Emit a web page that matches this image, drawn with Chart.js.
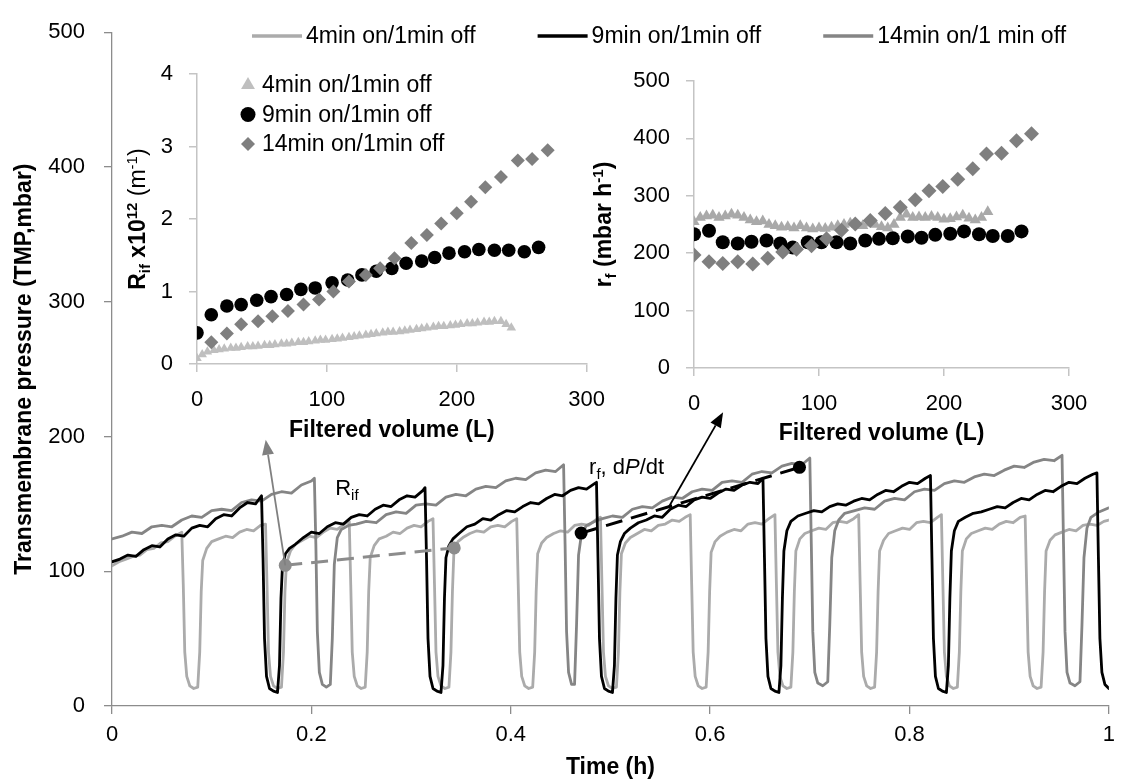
<!DOCTYPE html>
<html><head><meta charset="utf-8">
<script src="https://cdn.jsdelivr.net/npm/chart.js@4.4.1/dist/chart.umd.min.js"></script>
<style>
html,body{margin:0;padding:0;background:#fff;overflow:hidden}
#wrap{position:relative;width:1123px;height:784px;background:#fff}
canvas{position:absolute;display:block}
</style></head><body>
<div id="wrap">
<canvas id="main" width="1123" height="784" style="left:0;top:0;width:1123px;height:784px"></canvas>
<canvas id="insetA" width="520" height="410" style="left:100px;top:45px;width:520px;height:410px"></canvas>
<canvas id="insetB" width="540" height="410" style="left:570px;top:45px;width:540px;height:410px"></canvas>
</div>
<script>
// ---------------- DATA ----------------
const seriesLabels = ['4min on/1min off', '9min on/1min off', '14min on/1 min off'];
const insetLabels = ['4min on/1min off', '9min on/1min off', '14min on/1min off'];
const timeTicks = [0, 0.2, 0.4, 0.6, 0.8, 1];
const timeTickLabels = ['0', '0.2', '0.4', '0.6', '0.8', '1'];
const tmpTicks = [0, 100, 200, 300, 400, 500];
const volTicks = [0, 100, 200, 300];
const rifTicks = [0, 1, 2, 3, 4];
const rfTicks = [0, 100, 200, 300, 400, 500];

// 4min on / 1min off  (time h, TMP mbar)
const lgT = [0,.007,.014,.021,.028,.035,.042,.049,.056,.063,.070,
 .0715,.073,.075,.078,.082,.086,.088,.0895,.091,.095,.100,
 .107,.114,.121,.128,.135,.142,.149,.154,
 .1555,.157,.159,.162,.166,.170,.172,.1735,.175,.179,.184,
 .191,.198,.205,.212,.219,.226,.233,.238,
 .2395,.241,.243,.246,.250,.254,.256,.2575,.259,.263,.268,
 .275,.282,.289,.296,.303,.310,.317,.322,
 .3235,.325,.327,.330,.334,.338,.340,.3415,.343,.347,.352,
 .359,.366,.373,.380,.387,.394,.401,.406,
 .4075,.409,.411,.414,.418,.422,.424,.4255,.427,.431,.436,
 .443,.450,.457,.464,.471,.478,.485,.490,
 .4915,.493,.495,.498,.502,.506,.508,.5095,.511,.515,.520,
 .527,.534,.541,.548,.555,.562,.569,.575,.580,
 .5815,.583,.585,.588,.592,.596,.598,.5995,.601,.605,.610,
 .617,.624,.631,.638,.645,.652,.659,.665,
 .6665,.668,.670,.673,.677,.681,.683,.6845,.686,.690,.695,
 .702,.709,.716,.723,.730,.737,.744,.749,
 .7505,.752,.754,.757,.761,.765,.767,.7685,.770,.774,.779,
 .786,.793,.800,.807,.814,.821,.828,.832,
 .8335,.835,.837,.840,.844,.848,.850,.8515,.853,.857,.862,
 .869,.876,.883,.890,.897,.904,.911,.916,
 .9175,.919,.921,.924,.928,.932,.934,.9355,.937,.941,.946,
 .953,.960,.967,.974,.981,.988,.995,1.0];
const lgV = [104,107,109,111,112,116,117,121,122,126,129,
 90,40,22,15,13,14,40,85,108,117,122,
 124,126,125,129,131,130,134,135,
 90,40,22,15,13,14,40,85,106,115,120,
 123,126,125,129,132,131,135,137,
 90,40,22,15,13,14,40,85,110,119,124,
 126,129,128,132,134,133,137,139,
 90,40,22,15,13,14,40,85,115,122,125,
 128,130,129,133,134,133,137,139,
 90,40,22,15,13,14,40,85,113,121,125,
 128,130,129,134,135,134,138,140,
 90,40,22,15,13,14,40,85,113,121,125,
 128,131,130,134,135,138,137,140,142,
 90,40,22,15,13,14,40,85,114,122,126,
 129,131,130,135,136,135,139,142,
 90,40,22,15,13,14,40,85,115,124,128,
 130,132,131,136,137,136,139,142,
 90,40,22,15,13,14,40,85,115,123,128,
 130,132,131,136,137,136,140,142,
 90,40,22,15,13,14,40,85,115,124,128,
 130,132,131,135,137,136,140,141,
 90,40,22,15,13,14,40,85,115,123,127,
 129,131,130,134,135,134,137,138];

// 9min on / 1min off
const bkT = [0,.008,.016,.024,.032,.040,.048,.056,.064,.072,.080,.088,.096,.104,.112,.120,.128,.136,.144,.150,
 .1515,.153,.155,.158,.162,.166,.168,.1695,.171,.174,.178,.184,
 .192,.200,.208,.216,.224,.232,.240,.248,.256,.264,.272,.280,.288,.296,.304,.312,.314,
 .3155,.317,.319,.322,.326,.330,.332,.3335,.335,.338,.342,.348,
 .356,.364,.372,.380,.388,.396,.404,.412,.420,.428,.436,.444,.452,.460,.468,.476,.484,.486,
 .4875,.489,.491,.494,.498,.502,.504,.5055,.507,.510,.514,.520,
 .528,.536,.544,.552,.560,.568,.576,.584,.592,.600,.608,.616,.624,.632,.640,.648,.653,
 .6545,.656,.658,.661,.665,.669,.671,.6725,.674,.677,.681,.688,
 .696,.704,.712,.720,.728,.736,.744,.752,.760,.768,.776,.784,.792,.800,.808,.816,.821,
 .8225,.824,.826,.829,.833,.837,.839,.8405,.842,.845,.849,.856,
 .864,.872,.880,.888,.896,.904,.912,.920,.928,.936,.944,.952,.960,.968,.976,.984,.988,
 .9895,.991,.993,.996,1.0];
const bkV = [107,109,112,111,116,119,118,124,127,126,132,134,133,139,142,141,147,151,150,156,
 110,50,22,13,11,10,30,80,104,113,117,120,
 125,129,128,133,136,135,140,142,141,146,149,148,153,156,155,160,162,
 110,50,22,13,11,10,30,80,110,119,124,128,
 133,135,139,138,142,145,144,148,151,150,154,157,156,160,162,161,165,166,
 110,50,22,13,11,10,30,80,112,122,128,132,
 136,138,141,140,146,149,148,153,155,154,158,161,160,164,166,165,169,
 110,50,22,13,11,10,30,80,115,130,137,141,
 143,145,144,148,150,149,152,154,153,157,160,159,163,166,165,169,171,
 110,50,22,13,11,10,30,80,115,130,137,140,
 143,144,146,148,147,151,154,153,157,160,159,163,166,165,169,172,173,
 110,50,25,16,13];

// 14min on / 1min off
const dgT = [0,.01,.02,.03,.04,.05,.06,.07,.08,.09,.10,.11,.12,.13,.14,.15,.16,.17,.18,.19,.20,.203,
 .2045,.206,.208,.211,.215,.219,.221,.223,.226,.230,.237,
 .245,.255,.265,.275,.285,.295,.305,.315,.325,.335,.345,.355,.365,.375,.385,.395,.405,.415,.425,.435,.445,.453,
 .4545,.456,.458,.461,.464,.466,.468,.471,.476,.484,
 .492,.502,.512,.522,.532,.542,.552,.562,.572,.582,.592,.602,.612,.622,.632,.642,.652,.662,.672,.682,.692,.700,
 .7015,.703,.705,.708,.713,.718,.720,.722,.725,.729,.735,
 .745,.755,.765,.775,.785,.795,.805,.815,.825,.835,.845,.855,.865,.875,.885,.895,.905,.915,.925,.935,.945,.953,
 .9545,.956,.958,.961,.966,.971,.973,.975,.978,.982,.990,1.0];
const dgV = [124,126,129,128,133,134,133,138,141,140,145,146,145,151,153,152,157,159,158,164,167,169,
 120,55,25,16,14,16,50,105,125,131,134,
 135,137,136,142,144,143,149,150,149,155,157,156,161,163,162,167,169,168,173,175,174,179,
 120,55,25,16,16,60,112,128,134,137,
 139,141,140,146,148,147,152,155,154,159,161,160,166,167,166,172,174,173,178,180,179,184,
 120,55,25,17,15,18,60,110,130,138,143,
 145,147,146,152,154,153,159,161,160,165,167,166,170,172,171,175,178,177,181,183,182,186,
 120,55,25,17,15,18,60,110,132,140,144,147];

// annotation points on the main chart
const rifT = [0.1738, 0.3433], rifV = [104.4, 117.3];
const rfT = [0.4706, 0.6896], rfV = [128.3, 177.1];
const arrowRif = {from: [0.1738, 104.4], to: [0.1542, 197.5]};
const arrowRf = {from: [0.5585, 147.7], to: [0.613, 217.9]};
const labelRif = [0.2239, 162.5];
const labelRf = [0.4786, 177.8];

// Inset A: R_if vs filtered volume
const aTriX = [0,4,8,13,17,21,26,30,34,39,43,47,52,56,60,65,69,73,78,82,86,91,95,99,104,108,112,117,121,125,130,134,138,143,147,151,156,160,164,169,173,177,182,186,190,195,199,203,208,212,216,221,225,229,234,238,242];
const aTriY = [0.08,0.13,0.17,0.19,0.20,0.21,0.22,0.22,0.23,0.24,0.24,0.25,0.26,0.26,0.27,0.28,0.28,0.29,0.30,0.30,0.31,0.32,0.33,0.33,0.34,0.35,0.36,0.37,0.38,0.39,0.40,0.41,0.42,0.43,0.44,0.44,0.45,0.46,0.47,0.48,0.49,0.50,0.51,0.52,0.52,0.53,0.54,0.55,0.56,0.56,0.57,0.58,0.58,0.59,0.59,0.55,0.50];
const aCirX = [0,11,23,34,46,57,69,80,91,104,116,127,138,150,161,173,183,194,206,217,229,240,252,263];
const aCirY = [0.43,0.68,0.80,0.82,0.88,0.93,0.96,1.03,1.05,1.12,1.16,1.23,1.28,1.32,1.39,1.42,1.47,1.53,1.55,1.58,1.57,1.57,1.55,1.61];
const aDiaX = [11,23,34,47,58,70,82,94,105,117,130,141,152,165,177,188,200,211,222,234,247,258,270];
const aDiaY = [0.30,0.42,0.55,0.59,0.66,0.73,0.82,0.89,1.00,1.14,1.23,1.32,1.46,1.67,1.78,1.94,2.08,2.24,2.44,2.58,2.81,2.83,2.95];

// Inset B: r_f vs filtered volume
const bTriX = [0,5,10,15,20,25,30,35,40,45,50,55,60,65,70,75,80,85,90,95,100,105,110,115,120,125,130,135,140,145,150,155,160,165,170,175,180,185,190,195,200,205,210,215,220,225,230,235];
const bTriY = [255,262,265,266,262,265,268,266,262,258,255,256,250,248,245,246,244,248,244,242,244,243,245,248,250,252,250,248,252,250,246,244,250,262,268,262,263,262,264,262,259,260,263,266,261,258,262,272];
const bCirX = [0,12,23,35,46,58,69,79,91,102,114,125,137,148,159,171,182,193,205,216,228,239,251,262];
const bCirY = [233,239,219,217,220,222,217,210,219,219,219,217,222,225,226,229,227,232,234,238,233,230,230,238];
const bDiaX = [0,12,23,35,47,59,71,82,94,106,118,129,141,153,165,177,188,199,211,223,234,246,258,270];
const bDiaY = [197,185,182,185,181,191,202,207,213,225,240,251,257,269,280,293,309,316,329,347,373,374,396,408];

// ---------------- HELPERS ----------------
const FONT = '"Liberation Sans", Arial, sans-serif';
Chart.defaults.font.family = FONT;
Chart.defaults.color = '#000';
const AX_MAIN = '#8c8c8c', AX_IN = '#c4c4c4';
const C_LIGHT = '#ababab', C_BLACK = '#000000', C_DARK = '#858585';

function pts(xs, ys) { return xs.map((x, i) => ({x: x, y: ys[i]})); }
function fixTicks(arr) { return (s) => { s.ticks = arr.map(v => ({value: v})); }; }

function rich(ctx, parts, x, y, size, bold, rot, align) {
  ctx.save();
  ctx.translate(x, y);
  if (rot) ctx.rotate(rot);
  const fnt = p => (p.it ? 'italic ' : '') + ((p.b === undefined ? bold : p.b) ? 'bold ' : '') +
    ((p.sub || p.sup) ? Math.round(size * 0.66) : size) + 'px ' + FONT;
  let w = 0;
  parts.forEach(p => { ctx.font = fnt(p); p.w = ctx.measureText(p.t).width; w += p.w; });
  let cx = align === 'left' ? 0 : -w / 2;
  ctx.textBaseline = 'alphabetic';
  ctx.fillStyle = '#000';
  const base = size * 0.36;
  parts.forEach(p => {
    ctx.font = fnt(p);
    const dy = p.sub ? size * 0.22 : (p.sup ? -size * 0.38 : 0);
    ctx.fillText(p.t, cx, base + dy);
    cx += p.w;
  });
  ctx.restore();
}

function marker(ctx, style, x, y, r, color) {
  ctx.fillStyle = color;
  ctx.beginPath();
  if (style === 'triangle') {
    ctx.moveTo(x, y - r); ctx.lineTo(x + r * 0.866, y + r / 2); ctx.lineTo(x - r * 0.866, y + r / 2);
  } else if (style === 'rectRot') {
    ctx.moveTo(x, y - r); ctx.lineTo(x + r, y); ctx.lineTo(x, y + r); ctx.lineTo(x - r, y);
  } else {
    ctx.arc(x, y, r, 0, Math.PI * 2);
  }
  ctx.closePath();
  ctx.fill();
}

function arrow(ctx, x1, y1, x2, y2, color) {
  const a = Math.atan2(y2 - y1, x2 - x1), head = 15, half = 6;
  ctx.save();
  ctx.strokeStyle = color; ctx.fillStyle = color; ctx.lineWidth = 1.8;
  ctx.beginPath(); ctx.moveTo(x1, y1);
  ctx.lineTo(x2 - Math.cos(a) * head, y2 - Math.sin(a) * head); ctx.stroke();
  ctx.beginPath(); ctx.moveTo(x2, y2);
  ctx.lineTo(x2 - Math.cos(a) * head - Math.sin(a) * half, y2 - Math.sin(a) * head + Math.cos(a) * half);
  ctx.lineTo(x2 - Math.cos(a) * head + Math.sin(a) * half, y2 - Math.sin(a) * head - Math.cos(a) * half);
  ctx.closePath(); ctx.fill();
  ctx.restore();
}

// ---------------- PLUGINS ----------------
const mainLegend = {
  id: 'mainLegend',
  afterDraw(chart, args, o) {
    const ctx = chart.ctx; ctx.save();
    let x = o.x; const y = o.y;
    ctx.font = o.size + 'px ' + FONT; ctx.textBaseline = 'middle'; ctx.textAlign = 'left';
    for (let i = 0; i < 3; i++) {
      const ds = chart.data.datasets[i];
      ctx.strokeStyle = ds.borderColor; ctx.lineWidth = 3.5;
      ctx.beginPath(); ctx.moveTo(x, y); ctx.lineTo(x + o.line, y); ctx.stroke();
      ctx.fillStyle = '#000';
      ctx.fillText(ds.label, x + o.line + o.gap, y + 1);
      x += o.line + o.gap + ctx.measureText(ds.label).width + o.spacing;
    }
    ctx.restore();
  }
};

const mainAnnot = {
  id: 'mainAnnot',
  afterDatasetsDraw(chart) {
    const ctx = chart.ctx, xs = chart.scales.x, ys = chart.scales.y;
    const P = (p) => [xs.getPixelForValue(p[0]), ys.getPixelForValue(p[1])];
    let a = P(arrowRif.from), b = P(arrowRif.to);
    arrow(ctx, a[0], a[1], b[0], b[1], '#808080');
    a = P(arrowRf.from); b = P(arrowRf.to);
    arrow(ctx, a[0], a[1], b[0], b[1], '#000');
    let l = P(labelRif);
    rich(ctx, [{t: 'R'}, {t: 'if', sub: true}], l[0], l[1], 22, false, 0, 'left');
    l = P(labelRf);
    rich(ctx, [{t: 'r'}, {t: 'f', sub: true}, {t: ', d'}, {t: 'P', it: true}, {t: '/dt'}], l[0], l[1], 22, false, 0, 'left');
  }
};

const insetDeco = {
  id: 'insetDeco',
  afterDraw(chart, args, o) {
    const ctx = chart.ctx, ca = chart.chartArea;
    rich(ctx, o.title, o.titleX, (ca.top + ca.bottom) / 2, 23, true, -Math.PI / 2, 'center');
    if (o.legend) {
      ctx.save();
      ctx.font = o.legend.size + 'px ' + FONT; ctx.textBaseline = 'middle'; ctx.textAlign = 'left';
      chart.data.datasets.forEach((ds, i) => {
        const cy = o.legend.y + i * o.legend.dy;
        marker(ctx, ds.pointStyle, o.legend.x, cy, o.legend.r[i], ds.backgroundColor);
        ctx.fillStyle = '#000';
        ctx.fillText(ds.label, o.legend.tx, cy + 1);
      });
      ctx.restore();
    }
  }
};

// ---------------- MAIN CHART ----------------
const lineDs = (label, xs, ys, color, order) => ({
  label: label, data: pts(xs, ys), borderColor: color, backgroundColor: color,
  borderWidth: 2.8, pointRadius: 0, tension: 0, order: order, borderJoinStyle: 'round', borderCapStyle: 'round'
});

new Chart(document.getElementById('main'), {
  type: 'line',
  data: {
    datasets: [
      lineDs(seriesLabels[0], lgT, lgV, C_LIGHT, 4),
      lineDs(seriesLabels[1], bkT, bkV, C_BLACK, 2),
      lineDs(seriesLabels[2], dgT, dgV, C_DARK, 3),
      {label: 'Rif', data: pts(rifT, rifV), borderColor: '#8c8c8c', backgroundColor: '#8c8c8c',
       borderDash: [17, 9], borderWidth: 3, pointRadius: 6.5, pointBorderWidth: 0,
       pointBackgroundColor: '#8c8c8c', order: 1},
      {label: 'rf', data: pts(rfT, rfV), borderColor: '#000', backgroundColor: '#000',
       borderDash: [17, 9], borderWidth: 3, pointRadius: 6.5, pointBorderWidth: 0,
       pointBackgroundColor: '#000', order: 0}
    ]
  },
  options: {
    responsive: false, animation: false, parsing: true,
    layout: {padding: {left: 0, right: 6, top: 20, bottom: 0}},
    plugins: {
      legend: {display: false}, tooltip: {enabled: false},
      mainLegend: {x: 252, y: 36, line: 50, gap: 4, spacing: 62, size: 23}
    },
    scales: {
      x: {
        type: 'linear', min: 0, max: 1,
        afterBuildTicks: fixTicks(timeTicks),
        ticks: {font: {size: 22}, color: '#000', padding: 8, maxRotation: 0, autoSkip: false,
          callback: (v, i) => timeTickLabels[i]},
        grid: {drawOnChartArea: false, tickLength: 8, color: AX_MAIN, lineWidth: 1.3},
        border: {color: AX_MAIN, width: 1.3},
        title: {display: true, text: 'Time (h)', font: {size: 23, weight: 'bold'}, color: '#000', padding: {top: 0, bottom: 3}},
        afterFit: (s) => { s.height = 78; }
      },
      y: {
        type: 'linear', min: 0, max: 500,
        afterBuildTicks: fixTicks(tmpTicks),
        ticks: {font: {size: 22}, color: '#000', padding: 19},
        grid: {drawOnChartArea: false, tickLength: 8, color: AX_MAIN, lineWidth: 1.3},
        border: {color: AX_MAIN, width: 1.3},
        title: {display: true, text: 'Transmembrane pressure (TMP,mbar)', font: {size: 23, weight: 'bold'}, color: '#000', padding: {top: 11, bottom: 0}},
        afterFit: (s) => { s.width = 112; }
      }
    }
  },
  plugins: [mainLegend, mainAnnot]
});

// ---------------- INSETS ----------------
function scatterDs(label, xs, ys, style, color, r, order) {
  return {label: label, data: pts(xs, ys), showLine: false, pointStyle: style,
    pointRadius: r, pointBorderWidth: 0, backgroundColor: color, borderColor: color,
    pointBackgroundColor: color, order: order};
}
function insetScales(yMin, yMax, yTicks, yWidth, xHeight, xTitlePad) {
  return {
    x: {
      type: 'linear', min: 0, max: 300, afterBuildTicks: fixTicks(volTicks),
      ticks: {font: {size: 22}, color: '#000', padding: 15, maxRotation: 0, autoSkip: false},
      grid: {drawOnChartArea: false, tickLength: 8, color: AX_IN, lineWidth: 1.5},
      border: {color: AX_IN, width: 1.5},
      title: {display: true, text: 'Filtered volume (L)', font: {size: 23, weight: 'bold'}, color: '#000', padding: {top: 0, bottom: xTitlePad}},
      afterFit: (s) => { s.height = xHeight; }
    },
    y: {
      type: 'linear', min: yMin, max: yMax, afterBuildTicks: fixTicks(yTicks),
      ticks: {font: {size: 22}, color: '#000', padding: 16},
      grid: {drawOnChartArea: false, tickLength: 8, color: AX_IN, lineWidth: 1.5},
      border: {color: AX_IN, width: 1.5},
      afterFit: (s) => { s.width = yWidth; }
    }
  };
}

new Chart(document.getElementById('insetA'), {
  type: 'scatter',
  data: {datasets: [
    scatterDs(insetLabels[0], aTriX, aTriY, 'triangle', '#bfbfbf', 5.5, 3),
    scatterDs(insetLabels[1], aCirX, aCirY, 'circle', '#000000', 6.8, 2),
    scatterDs(insetLabels[2], aDiaX, aDiaY, 'rectRot', '#7f7f7f', 7, 1)
  ]},
  options: {
    responsive: false, animation: false,
    layout: {padding: {left: 0, right: 30, top: 28, bottom: 0}},
    plugins: {
      legend: {display: false}, tooltip: {enabled: false},
      insetDeco: {
        title: [{t: 'R'}, {t: 'if', sub: true}, {t: ' x10'}, {t: '12', sup: true}, {t: ' (m', b: false}, {t: '-1', sup: true, b: false}, {t: ')', b: false}],
        titleX: 37,
        legend: {x: 148, tx: 162, y: 40, dy: 29.5, size: 23, r: [8, 7.5, 7]}
      }
    },
    scales: insetScales(0, 4, rifTicks, 97, 91, 11)
  },
  plugins: [insetDeco]
});

new Chart(document.getElementById('insetB'), {
  type: 'scatter',
  data: {datasets: [
    scatterDs(insetLabels[0], bTriX, bTriY, 'triangle', '#a9a9a9', 6.5, 3),
    scatterDs(insetLabels[1], bCirX, bCirY, 'circle', '#000000', 7, 2),
    scatterDs(insetLabels[2], bDiaX, bDiaY, 'rectRot', '#7f7f7f', 7.5, 1)
  ]},
  options: {
    responsive: false, animation: false,
    layout: {padding: {left: 0, right: 41, top: 36, bottom: 0}},
    plugins: {
      legend: {display: false}, tooltip: {enabled: false},
      insetDeco: {
        title: [{t: 'r'}, {t: 'f', sub: true}, {t: ' (mbar h'}, {t: '-1', sup: true}, {t: ')'}],
        titleX: 33
      }
    },
    scales: insetScales(0, 500, rfTicks, 124, 87, 8)
  },
  plugins: [insetDeco]
});
</script>
</body></html>
